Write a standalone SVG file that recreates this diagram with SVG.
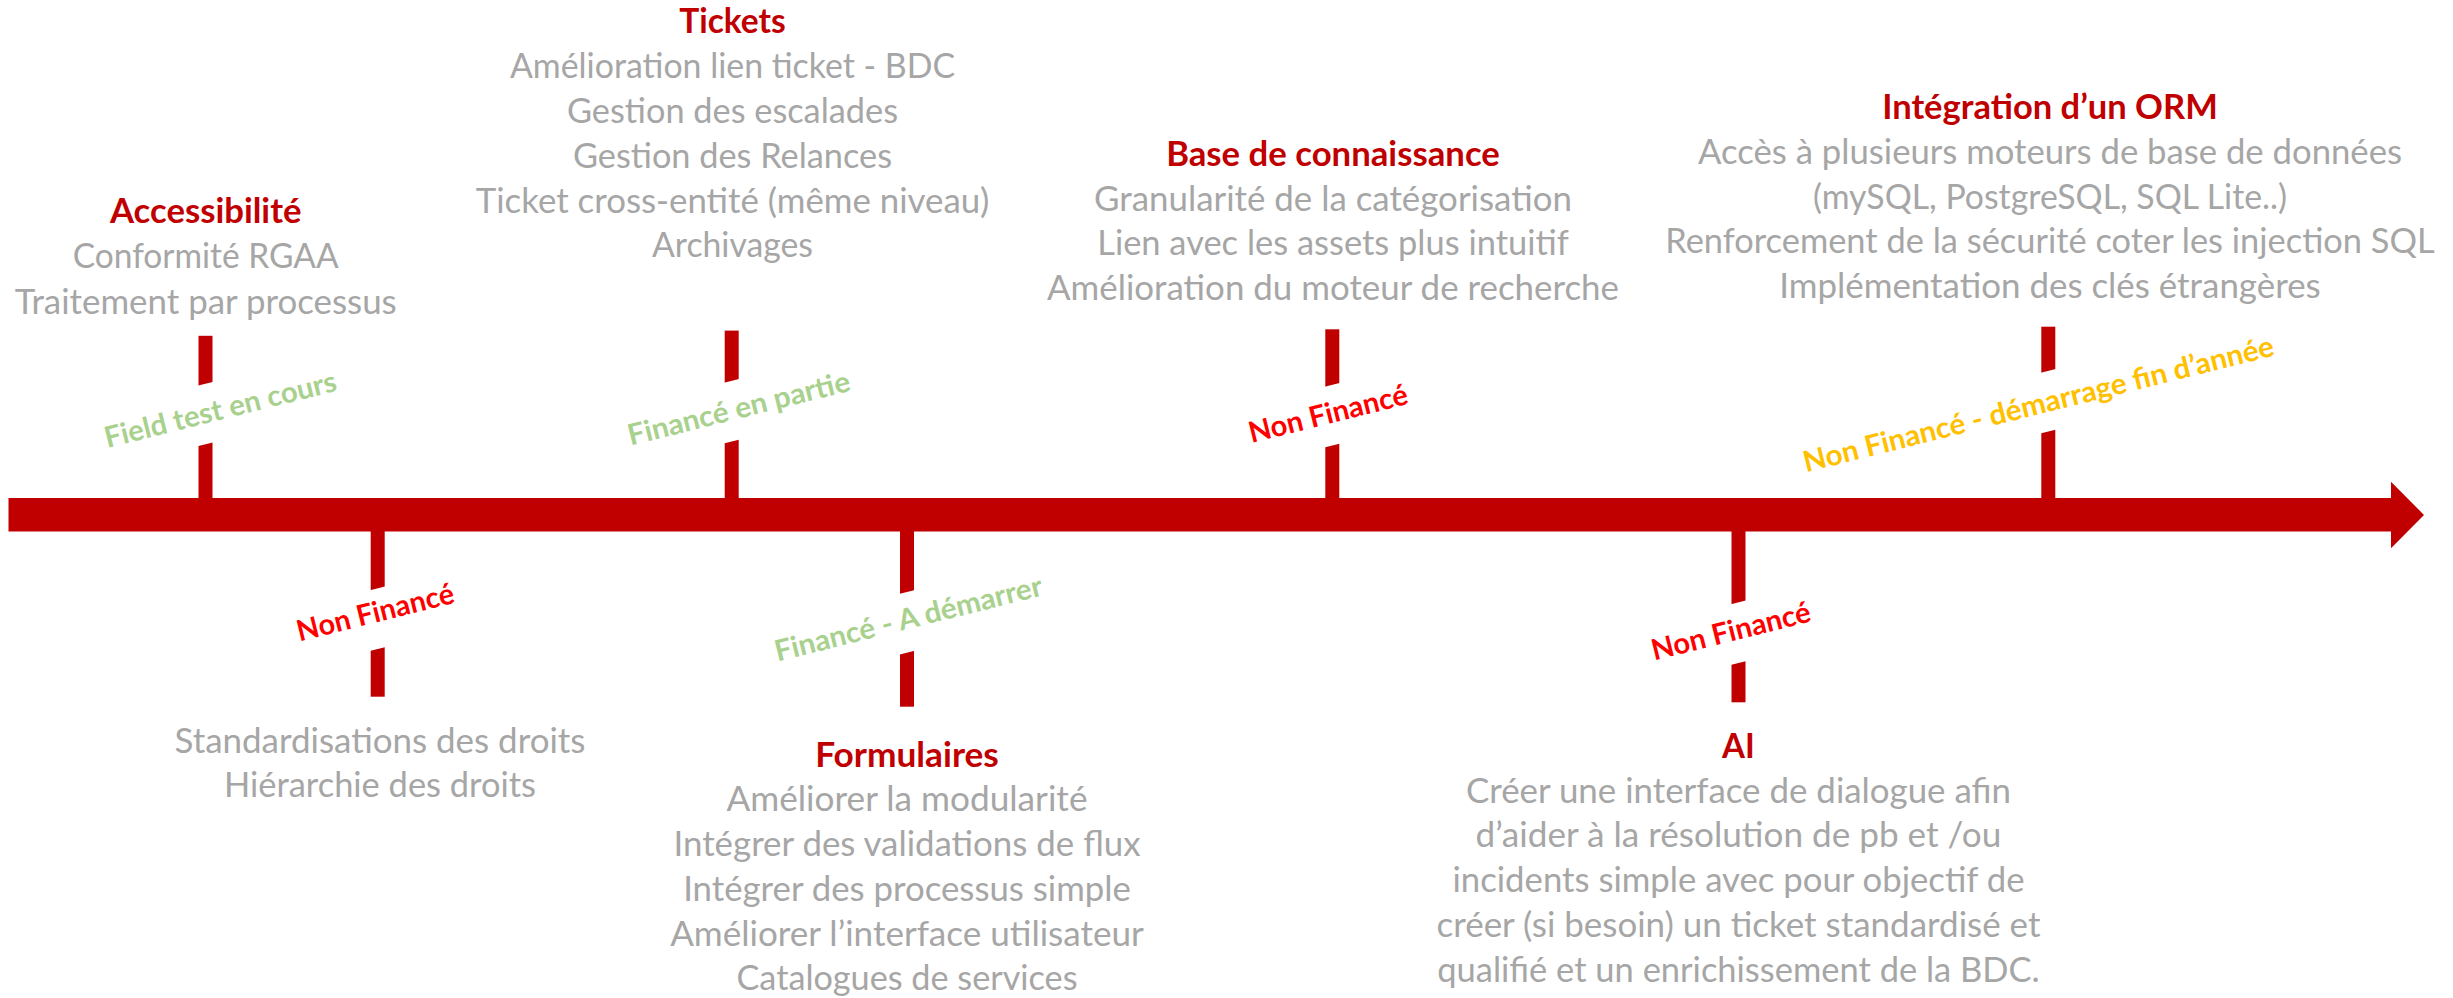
<svg xmlns="http://www.w3.org/2000/svg" width="2453" height="998" viewBox="0 0 2453 998">
<style>
text{font-family:Lato,"Liberation Sans",sans-serif;text-anchor:middle}
.t{font-size:34px;font-weight:bold;fill:#C00000}
.i{font-size:34px;fill:#A6A6A6}
.s{font-size:29px;font-weight:bold}
.g{fill:#A9D18E}.r{fill:#FF0000}.y{fill:#FFC000}
.bar{fill:#C00000}
.gap{fill:#FFFFFF}
</style>
<rect width="2453" height="998" fill="#FFFFFF"/>
<g id="connectors">
<polygon class="bar" points="8.5,498 2391,498 2391,481.7 2424,515 2391,548.3 2391,531.5 8.5,531.5"/>
<rect class="bar" x="198.5" y="335.8" width="14" height="163"/>
<rect class="bar" x="724.7" y="330.6" width="14" height="168"/>
<rect class="bar" x="1325.3" y="329.3" width="14" height="169"/>
<rect class="bar" x="2041.3" y="326.7" width="14" height="172"/>
<rect class="bar" x="370.7" y="531" width="14" height="165.7"/>
<rect class="bar" x="900" y="531" width="14" height="175.7"/>
<rect class="bar" x="1731.5" y="531" width="14" height="171.3"/>
</g>
<g id="status-accessibilite">
<rect class="gap" x="-24" y="-29.4" width="48" height="58.8" transform="translate(205.5,414) rotate(-14)"/>
<text class="s g" textLength="238" lengthAdjust="spacingAndGlyphs" transform="translate(222.8,419.2) rotate(-14)">Field test en cours</text>
</g>
<g id="status-tickets">
<rect class="gap" x="-24" y="-29.4" width="48" height="58.8" transform="translate(731.7,411.2) rotate(-14)"/>
<text class="s g" textLength="228" lengthAdjust="spacingAndGlyphs" transform="translate(741.2,418) rotate(-14)">Financé en partie</text>
</g>
<g id="status-bdc">
<rect class="gap" x="-24" y="-29.4" width="48" height="58.8" transform="translate(1332.3,415.2) rotate(-14)"/>
<text class="s r" textLength="163" lengthAdjust="spacingAndGlyphs" transform="translate(1330.5,423.3) rotate(-14)">Non Financé</text>
</g>
<g id="status-orm">
<rect class="gap" x="-24" y="-29.4" width="48" height="58.8" transform="translate(2048.3,401.2) rotate(-14)"/>
<text class="s y" textLength="484" lengthAdjust="spacingAndGlyphs" transform="translate(2040.8,413.8) rotate(-14)">Non Financé - démarrage fin d’année</text>
</g>
<g id="status-droits">
<rect class="gap" x="-24" y="-29.4" width="48" height="58.8" transform="translate(377.7,618.7) rotate(-14)"/>
<text class="s r" textLength="161" lengthAdjust="spacingAndGlyphs" transform="translate(377.7,622) rotate(-14)">Non Financé</text>
</g>
<g id="status-formulaires">
<rect class="gap" x="-24" y="-29.4" width="48" height="58.8" transform="translate(907,622.3) rotate(-14)"/>
<text class="s g" textLength="275" lengthAdjust="spacingAndGlyphs" transform="translate(910.8,628.3) rotate(-14)">Financé - A démarrer</text>
</g>
<g id="status-ai">
<rect class="gap" x="-24" y="-29.4" width="48" height="58.8" transform="translate(1738.5,632.7) rotate(-14)"/>
<text class="s r" textLength="163" lengthAdjust="spacingAndGlyphs" transform="translate(1733.3,640.8) rotate(-14)">Non Financé</text>
</g>
<g id="node-accessibilite">
<text class="t" x="205.7" y="223.2" textLength="191.5" lengthAdjust="spacingAndGlyphs">Accessibilité</text>
<text class="i" x="205.7" y="268.4" textLength="266" lengthAdjust="spacingAndGlyphs">Conformité RGAA</text>
<text class="i" x="205.7" y="313.6" textLength="382" lengthAdjust="spacingAndGlyphs">Traitement par processus</text>
</g>
<g id="node-tickets">
<text class="t" x="732.5" y="33.4" textLength="106.6" lengthAdjust="spacingAndGlyphs">Tickets</text>
<text class="i" x="732.5" y="78.2" textLength="445" lengthAdjust="spacingAndGlyphs">Amélioration lien ticket - BDC</text>
<text class="i" x="732.5" y="123" textLength="331" lengthAdjust="spacingAndGlyphs">Gestion des escalades</text>
<text class="i" x="732.5" y="167.8" textLength="319" lengthAdjust="spacingAndGlyphs">Gestion des Relances</text>
<text class="i" x="732.5" y="212.6" textLength="513.5" lengthAdjust="spacingAndGlyphs">Ticket cross-entité (même niveau)</text>
<text class="i" x="732.5" y="257.4" textLength="161" lengthAdjust="spacingAndGlyphs">Archivages</text>
</g>
<g id="node-bdc">
<text class="t" x="1333" y="166" textLength="333.7" lengthAdjust="spacingAndGlyphs">Base de connaissance</text>
<text class="i" x="1333" y="210.7" textLength="477.8" lengthAdjust="spacingAndGlyphs">Granularité de la catégorisation</text>
<text class="i" x="1333" y="255.3" textLength="471.6" lengthAdjust="spacingAndGlyphs">Lien avec les assets plus intuitif</text>
<text class="i" x="1333" y="300" textLength="572" lengthAdjust="spacingAndGlyphs">Amélioration du moteur de recherche</text>
</g>
<g id="node-orm">
<text class="t" x="2050" y="119.3" textLength="335.6" lengthAdjust="spacingAndGlyphs">Intégration d’un ORM</text>
<text class="i" x="2050" y="164" textLength="704" lengthAdjust="spacingAndGlyphs">Accès à plusieurs moteurs de base de données</text>
<text class="i" x="2050" y="208.6" textLength="474" lengthAdjust="spacingAndGlyphs">(mySQL, PostgreSQL, SQL Lite..)</text>
<text class="i" x="2050" y="253.3" textLength="769.5" lengthAdjust="spacingAndGlyphs">Renforcement de la sécurité coter les injection SQL</text>
<text class="i" x="2050" y="298" textLength="541.4" lengthAdjust="spacingAndGlyphs">Implémentation des clés étrangères</text>
</g>
<g id="node-droits">
<text class="i" x="380" y="752.7" textLength="411" lengthAdjust="spacingAndGlyphs">Standardisations des droits</text>
<text class="i" x="380" y="797.4" textLength="312" lengthAdjust="spacingAndGlyphs">Hiérarchie des droits</text>
</g>
<g id="node-formulaires">
<text class="t" x="907" y="766.7" textLength="183.7" lengthAdjust="spacingAndGlyphs">Formulaires</text>
<text class="i" x="907" y="811.4" textLength="361" lengthAdjust="spacingAndGlyphs">Améliorer la modularité</text>
<text class="i" x="907" y="856.1" textLength="467" lengthAdjust="spacingAndGlyphs">Intégrer des validations de flux</text>
<text class="i" x="907" y="900.8" textLength="447.7" lengthAdjust="spacingAndGlyphs">Intégrer des processus simple</text>
<text class="i" x="907" y="945.5" textLength="473.7" lengthAdjust="spacingAndGlyphs">Améliorer l’interface utilisateur</text>
<text class="i" x="907" y="990.2" textLength="341" lengthAdjust="spacingAndGlyphs">Catalogues de services</text>
</g>
<g id="node-ai">
<text class="t" x="1738.5" y="758.3" textLength="32.8" lengthAdjust="spacingAndGlyphs">AI</text>
<text class="i" x="1738.5" y="802.7" textLength="545" lengthAdjust="spacingAndGlyphs">Créer une interface de dialogue afin</text>
<text class="i" x="1738.5" y="847.4" textLength="525.8" lengthAdjust="spacingAndGlyphs">d’aider à la résolution de pb et /ou</text>
<text class="i" x="1738.5" y="892.1" textLength="572" lengthAdjust="spacingAndGlyphs">incidents simple avec pour objectif de</text>
<text class="i" x="1738.5" y="936.8" textLength="604" lengthAdjust="spacingAndGlyphs">créer (si besoin) un ticket standardisé et</text>
<text class="i" x="1738.5" y="981.5" textLength="602.5" lengthAdjust="spacingAndGlyphs">qualifié et un enrichissement de la BDC.</text>
</g>
</svg>
